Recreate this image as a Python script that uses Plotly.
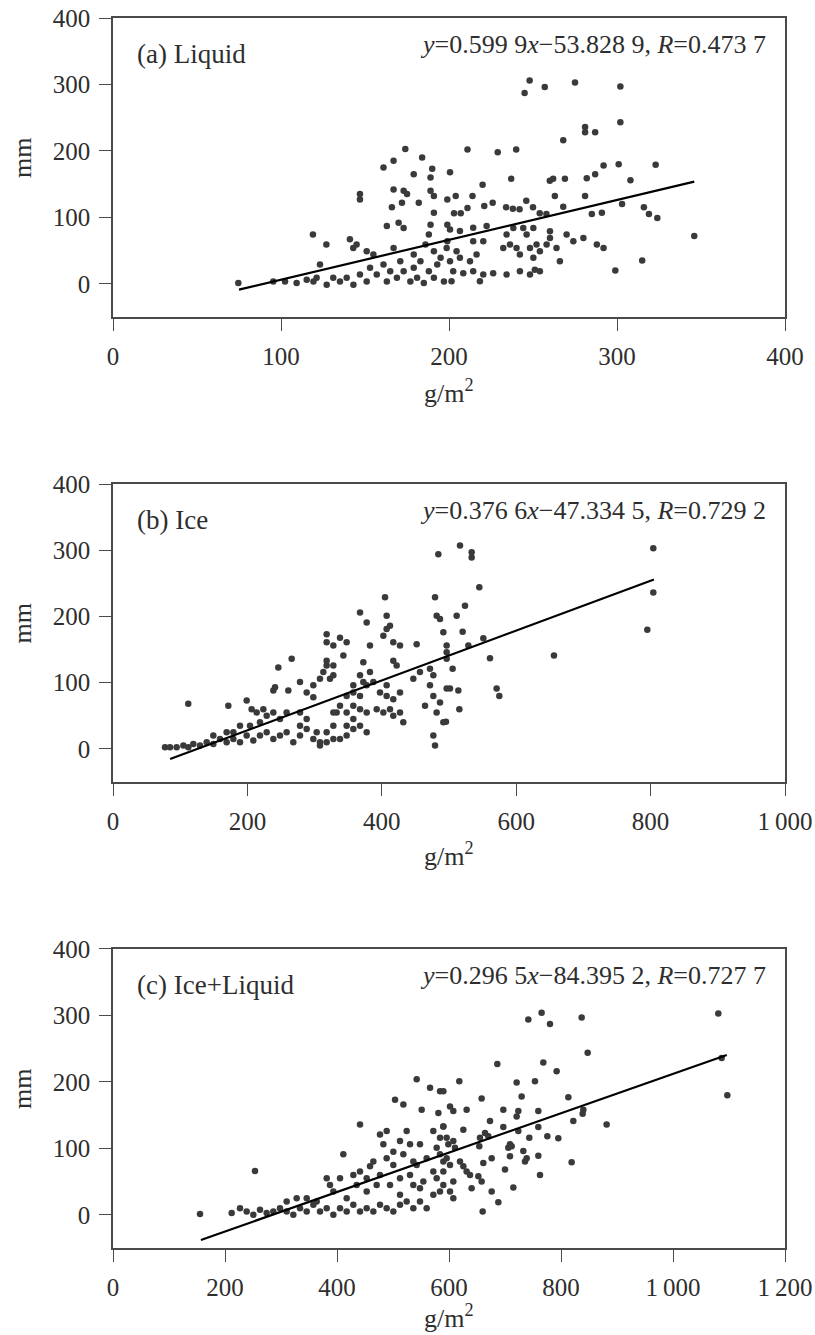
import plotly.graph_objects as go
from plotly.subplots import make_subplots

# ---------------- data ----------------
# (a) Liquid
liq_x = [74.6, 95.4, 102.4, 109.3, 115.3, 121.2, 123.2, 119.3, 127.2, 131.1, 135.1, 139.1, 143.1, 147, 151, 153,
         157, 161, 163, 165, 169, 171, 173, 177, 179, 181, 183, 185, 188, 191, 193, 195, 197, 155, 143, 179, 191,
         199, 199, 119, 127, 141, 145, 151, 147, 147, 174, 167, 161, 184, 179, 190, 189, 167, 173, 175, 166, 172,
         182, 189, 191, 191, 163, 170, 173, 189, 188, 186, 167,
         248, 245, 257, 275, 302, 302, 281, 281, 287, 268, 211, 229, 240, 200.6, 220, 237, 260, 262, 269, 282, 287,
         292, 301, 323, 308, 316, 319, 324, 346, 315, 299, 303, 281, 263, 214, 204, 199, 203, 207, 211, 221, 226,
         234, 238, 242, 246, 250, 254, 258, 268, 285, 291,
         200.6, 206.5, 214.4, 222.4, 198.6, 204.5, 200.6, 206.5, 212.5, 202.5, 208.5, 214.4, 220.4, 201.5, 218.4,
         226.3, 234.3, 242.2, 248.2, 251.1, 254.1, 214.4, 220.4, 216.4, 234.3, 236.3, 240.2, 242.2, 246.2, 248.2,
         250.2, 252.1, 254.1, 260.1, 260.1, 264, 266, 270, 274, 280, 288, 292, 244.2, 238.3, 232.3, 250.2, 258.1]
liq_y = [1, 3.6, 3.6, 1, 6, 9, 29, 3.6, -1.5, 9, 3.6, 9, -1.5, 14, 3.6, 24,
         14, 29, 3.6, 19, 9, 34, 19, 3.6, 24, 9, 34, 1, 19, 9, 29, 39, 3.6, 44, 54, 44, 49,
         64, 89, 74, 59, 67, 59, 49, 135, 127, 203, 185, 175, 190, 165, 173, 160, 142, 140, 135, 115, 122,
         122, 140, 132, 107, 87, 92, 84, 89, 74, 59, 54,
         306, 287, 296, 303, 297, 243, 236, 228, 228, 216, 202, 198, 202, 168, 149, 158, 155, 158, 158, 159, 165,
         178, 180, 179, 156, 115, 105, 99, 72, 35, 20, 120, 132, 132, 132, 132, 127, 106, 106, 114, 117, 122,
         115, 113, 112, 125, 115, 106, 105, 116, 105, 107,
         81.8, 79.3, 84.4, 86.9, 54, 49, 34, 39, 34, 19, 16, 19, 14, 4, 4,
         16, 14, 19, 14, 21, 19, 64, 64, 44, 74, 59, 54, 44, 74, 54,
         39, 59, 49, 79, 69, 54, 34, 74, 64, 69, 59, 54, 84, 84, 54, 84, 59]

# (b) Ice
ice_x = [77.4, 84.8, 94.7, 104.7, 112.1, 119.5, 129.5, 139.4, 149.3, 159.2, 169.1, 179.1, 189, 198.9, 208.8, 218.7,
         228.7, 238.6, 248.5, 258.4, 268.3, 278.3, 288.2, 298.1, 308, 317.9, 327.9, 337.8, 347.7, 357.6, 367.6,
         377.5, 112, 171.6, 198.9, 206.3, 213.8, 223.7, 228.7, 238.6, 248.5, 258.4, 218.7, 189, 179.1, 203.9, 169.1,
         149.3, 238.6, 241.1, 260.9, 265.9, 246, 278.3, 288.2, 298.1, 298.1, 308, 313, 317.9, 317.9, 322.9, 317.9,
         317.9, 327.9, 337.8, 347.7, 342.8, 327.9, 337.8, 327.9, 347.7, 357.6, 367.6, 372.5, 377.5, 367.6, 372.5,
         382.4, 387.4, 397.3, 407.2, 417.1, 427.1, 412.2, 417.1, 427.1, 432, 407.2, 382.4, 367.6, 377.5, 404.8,
         407.2, 407.2, 402.3, 412.2, 417.1, 427.1, 451.9, 417.1, 422.1, 446.9, 456.8, 471.7, 476.7, 481.6, 479.2,
         484.1, 491.6, 496.5, 496.5, 471.7, 476.7, 464.3, 481.6, 496.5, 491.6, 476.7, 479.2, 327.9, 357.6, 357.6,
         347.7, 332.8, 303.1, 288.2, 278.3, 278.3, 308, 317.9, 327.9, 347.7, 357.6, 367.6, 377.5, 392.4, 402.3,
         516.4, 533.7, 533.7, 545.1, 523.8, 511.4, 520.3, 551.1, 528.8, 496.5, 561, 505.4, 501.5, 513.9, 570.9,
         574.9, 515.4, 495.5, 656.2, 795.1, 804, 804, 486.6, 486.6]
ice_y = [2.5, 2.5, 2.5, 5, 2.5, 7.5, 5, 10, 7.5, 15, 10, 15, 10, 20, 12.5, 20,
         25, 15, 20, 25, 10, 20, 30, 15, 5, 25, 35, 15, 20, 30, 35,
         25, 68, 65, 73, 60, 55, 60, 50, 55, 45, 55, 40, 35, 25, 35, 25,
         20, 88, 93, 88, 136, 123, 101, 85, 96, 78, 106, 116, 126, 133, 106, 173,
         161, 156, 168, 161, 141, 126, 65, 55, 55, 65, 80, 101, 96, 111, 131,
         116, 101, 85, 96, 75, 85, 60, 50, 55, 40, 80, 156, 206, 191, 229,
         201, 181, 171, 186, 161, 156, 158, 133, 126, 106, 116, 121, 111, 201, 229,
         294, 176, 156, 136, 96, 80, 65, 55, 91, 40, 20, 5, 111, 96, 85,
         80, 55, 25, 45, 55, 35, 10, 10, 15, 35, 45, 60, 55, 60, 55,
         307, 297, 289, 244, 216, 201, 177, 167, 156, 146, 137, 121, 91, 88, 91,
         80, 60, 41, 141, 180, 236, 303, 70, 196]

# (c) Ice+Liquid
tot_x = [155.4, 253.6, 211.9, 226.8, 238.7, 250.6, 262.5, 274.4, 286.3, 298.2, 310.1, 322, 334, 345.9, 357.8,
         369.7, 381.6, 393.5, 405.4, 417.3, 429.2, 441.1, 453, 464.9, 476.8, 488.7, 500.6, 512.5, 524.4, 536.3,
         548.2, 560.1, 310.1, 328, 345.9, 363.7, 381.6, 387.5, 393.5, 405.4, 411.3, 417.3, 429.2, 435.1, 441.1,
         441.1, 453, 453, 459, 464.9, 470.8, 476.8, 476.8, 488.7, 488.7, 494.7, 500.6, 503.6, 512.5, 512.5, 518.5,
         518.5, 524.4, 530.4, 536.3, 542.3, 542.3, 548.2, 551.2, 554.2, 560.1, 566.1, 572, 578, 578, 584, 581,
         589.9, 584, 589.9, 572, 572, 482.8, 500.6, 530.4, 536.3, 548.2, 512.5,
         741.6, 765.4, 780.3, 836.9, 1080.9, 847.6, 1097, 1086.9, 686.3, 768.4, 792.2, 618.4, 720.8, 753.5, 589.9,
         658.3, 729.7, 813.1, 601.8, 607.7, 631.5, 697, 723.8, 720.8, 759.5, 839.9, 838.7, 673.2, 822, 881.5,
         589.9, 625.6, 664.3, 655.3, 670.2, 697, 759.5, 723.8, 708.9, 705.9, 711.9, 743.4, 775.6, 795.2, 654.1,
         595.8, 607.7, 598.8, 610.7, 583.9, 595.8, 601.8, 589.9, 619.6, 625.6, 631.5, 637.5, 661.3, 676.2, 708.9,
         732.7, 738.7, 735.7, 759.5, 700, 819, 762.5, 652.4, 658.3, 640.4, 714.9, 676.2, 688.1, 660.1, 607.7,
         601.8, 607.7, 589.9, 583.9]
tot_y = [1, 66, 2.5, 10, 5, 0, 7.5, 2.5, 5, 10, 5, 0, 10, 5, 15,
         5, 10, 0, 10, 5, 15, 5, 10, 5, 15, 10, 5, 15, 20, 10,
         20, 10, 20, 25, 25, 20, 55, 45, 35, 55, 91, 25, 60, 45, 65,
         136, 55, 35, 73, 80, 45, 121, 60, 85, 126, 45, 75, 173, 30, 55, 166,
         91, 126, 60, 45, 204, 75, 106, 158, 50, 85, 191, 30, 55, 101, 186, 153,
         133, 116, 80, 65, 126, 106, 95, 106, 80, 40, 111,
         294, 304, 287, 297, 303, 244, 180, 236, 227, 229, 216, 201, 199, 201, 186,
         175, 178, 177, 163, 156, 158, 158, 156, 148, 156, 158, 152, 141, 141, 136,
         133, 128, 123, 116, 118, 132, 132, 126, 106, 101, 103, 116, 118, 115, 103,
         116, 111, 106, 101, 91, 85, 75, 65, 80, 73, 65, 60, 78, 85, 88,
         96, 85, 80, 89, 68, 79, 60, 58, 50, 40, 41, 35, 19, 5, 50,
         35, 25, 45, 35]

# regression fits: slope, intercept, x-extent
fit_slope = [0.5999, 0.3766, 0.2965]
fit_icept = [-53.8289, -47.3345, -84.3952]
fit_xmin = [75, 85, 157]
fit_xmax = [346, 805, 1096]

panel_labels = ["(a) Liquid", "(b) Ice", "(c) Ice+Liquid"]
equations = ["<i>y</i>=0.599 9<i>x</i>\u221253.828 9, <i>R</i>=0.473 7",
             "<i>y</i>=0.376 6<i>x</i>\u221247.334 5, <i>R</i>=0.729 2",
             "<i>y</i>=0.296 5<i>x</i>\u221284.395 2, <i>R</i>=0.727 7"]
x_ranges = [[0, 400], [0, 1000], [0, 1200]]
x_tickvals = [[0, 100, 200, 300, 400],
              [0, 200, 400, 600, 800, 1000],
              [0, 200, 400, 600, 800, 1000, 1200]]
x_ticktext = [["0", "100", "200", "300", "400"],
              ["0", "200", "400", "600", "800", "1\u2009000"],
              ["0", "200", "400", "600", "800", "1\u2009000", "1\u2009200"]]
y_tickvals = [0, 100, 200, 300, 400]

# ---------------- figure ----------------
FONT = "Liberation Serif, Times New Roman, serif"
TXT = "#2e2e2e"
LINE = "#4a4a4a"
MARK = "#3a3a3a"

fig = make_subplots(rows=3, cols=1)
xs = [liq_x, ice_x, tot_x]
ys = [liq_y, ice_y, tot_y]
for i in range(3):
    fig.add_trace(go.Scatter(x=xs[i], y=ys[i], mode="markers",
                             marker=dict(size=6.5, color=MARK), showlegend=False),
                  row=i + 1, col=1)
    lx = [fit_xmin[i], fit_xmax[i]]
    ly = [fit_slope[i] * v + fit_icept[i] for v in lx]
    fig.add_trace(go.Scatter(x=lx, y=ly, mode="lines",
                             line=dict(color="black", width=2.2), showlegend=False),
                  row=i + 1, col=1)

domains = [[0.7569, 1.0], [0.3789, 0.6211], [0.0, 0.2431]]
xlabel_shift = [-74, -73, -68]
for i in range(3):
    n = "" if i == 0 else str(i + 1)
    fig.layout["xaxis" + n].update(
        domain=[0, 1], range=x_ranges[i], tickmode="array",
        tickvals=x_tickvals[i], ticktext=x_ticktext[i], automargin=False,
        showline=True, mirror=True, linecolor=LINE, linewidth=1.6,
        ticks="outside", ticklen=12, tickwidth=1.4, tickcolor=LINE,
        showgrid=False, zeroline=False, ticklabelstandoff=4,
        tickfont=dict(family=FONT, size=25, color=TXT))
    fig.layout["yaxis" + n].update(
        domain=domains[i], range=[-50, 400], tickmode="array",
        tickvals=y_tickvals, automargin=False,
        showline=True, mirror=True, linecolor=LINE, linewidth=1.6,
        ticks="outside", ticklen=12, tickwidth=1.4, tickcolor=LINE,
        showgrid=False, zeroline=False, ticklabelstandoff=4,
        tickfont=dict(family=FONT, size=25, color=TXT))
    xr = "x" + n + " domain"
    yr = "y" + n + " domain"
    fig.add_annotation(xref=xr, yref=yr, x=0.033, y=0.878, xanchor="left", yanchor="middle",
                       text=panel_labels[i], showarrow=False,
                       font=dict(family=FONT, size=27, color=TXT))
    fig.add_annotation(xref=xr, yref=yr, x=0.975, y=0.912, xanchor="right", yanchor="middle",
                       text=equations[i], showarrow=False,
                       font=dict(family=FONT, size=26, color=TXT))
    fig.add_annotation(xref=xr, yref=yr, x=-0.135, y=0.533, xanchor="center", yanchor="middle",
                       text="mm", textangle=-90, showarrow=False,
                       font=dict(family=FONT, size=26, color=TXT))
    fig.add_annotation(xref=xr, yref=yr, x=0.5, y=0, yshift=xlabel_shift[i],
                       xanchor="center", yanchor="middle",
                       text="g/m<sup>2</sup>", showarrow=False,
                       font=dict(family=FONT, size=26, color=TXT))

fig.update_layout(width=815, height=1335,
                  margin=dict(l=113, r=30, t=18, b=87, autoexpand=False),
                  paper_bgcolor="white", plot_bgcolor="white",
                  showlegend=False)

# remove the default 8 px page margin so the figure fills the window exactly
fig.write_html("out.html", config={"displayModeBar": False},
               post_script="document.body.style.margin='0';document.body.style.overflow='hidden';")
